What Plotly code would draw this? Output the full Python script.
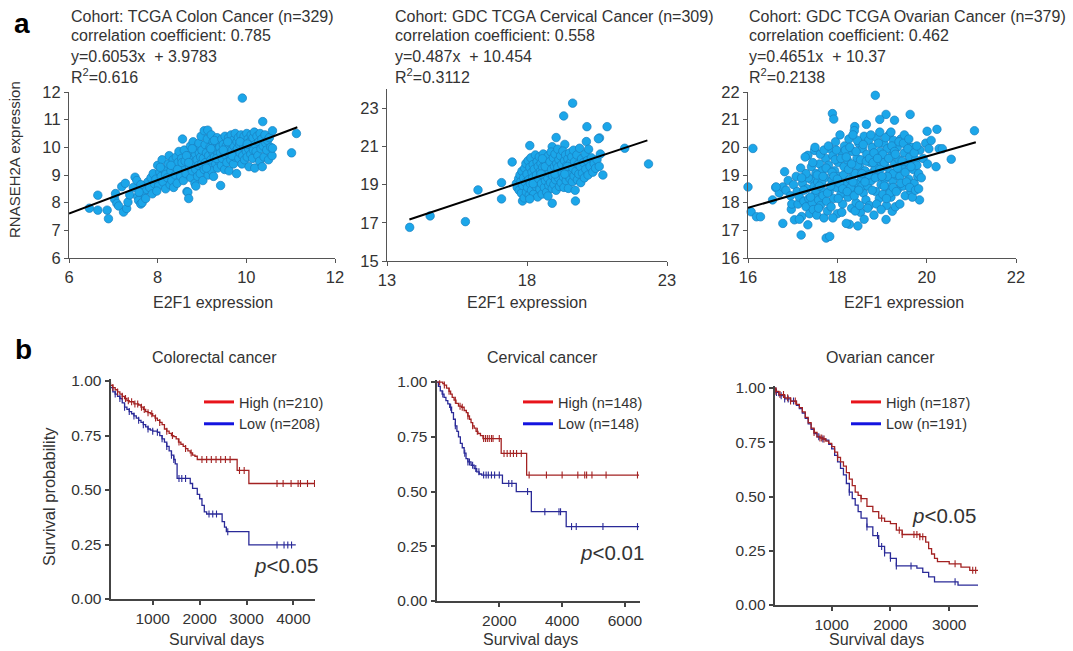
import plotly.graph_objects as go

# ---------------- DATA ----------------
# Panel a: scatter (E2F1 expression, RNASEH2A expression)
colon_pts = [
    (6.46,7.80),(6.65,8.27),(6.65,7.73),(6.86,7.73),(6.89,7.42),
    (7.03,8.12),(7.05,8.33),(7.08,7.97),(7.12,7.88),(7.19,8.58),(7.23,7.66),(7.27,8.70),(7.30,7.79),(7.33,8.02),(7.37,8.28),
    (7.45,8.55),(7.49,8.92),(7.53,8.80),(7.55,8.22),(7.57,8.08),(7.60,8.45),(7.62,7.95),(7.65,8.00),(7.68,8.35),(7.70,8.62),(7.73,8.15),(7.75,8.48),(7.78,8.75),(7.62,8.65),(7.58,8.38),
    (7.82,8.55),(7.85,8.90),(7.88,8.32),(7.90,9.05),(7.93,8.68),(7.96,8.85),(8.00,9.35),(8.02,8.60),(8.05,9.10),(8.08,8.95),(8.10,9.55),(8.12,8.75),(8.15,9.20),(8.18,8.50),(8.18,9.02),(7.98,8.42),(8.06,9.28),
    (8.22,8.90),(8.24,9.40),(8.26,9.70),(8.28,8.65),(8.30,9.15),(8.32,8.80),(8.35,9.55),(8.36,8.55),(8.38,9.30),(8.40,9.00),(8.42,9.65),(8.44,8.70),(8.46,9.45),(8.48,9.85),(8.50,9.10),(8.52,8.95),(8.54,9.60),(8.56,10.30),(8.57,9.25),(8.58,8.80),(8.30,9.35),(8.45,9.20),(8.55,9.45),
    (8.60,9.90),(8.62,9.50),(8.64,9.05),(8.66,8.40),(8.68,8.38),(8.70,9.70),(8.70,8.15),(8.72,9.30),(8.74,10.05),(8.75,8.90),(8.76,9.60),(8.78,9.15),(8.80,10.20),(8.80,9.85),(8.82,9.45),(8.84,8.70),(8.85,9.75),(8.86,9.20),(8.88,10.00),(8.89,9.55),(8.90,8.95),(8.92,9.35),(8.93,10.15),(8.94,9.80),(8.96,9.05),(8.97,9.65),(8.98,10.40),(8.99,9.40),(8.65,9.70),(8.78,9.95),(8.86,8.60),(8.70,9.45),
    (9.00,9.90),(9.02,8.80),(9.03,9.60),(9.05,10.60),(9.05,9.20),(9.07,10.10),(9.08,9.45),(9.10,9.80),(9.12,10.30),(9.13,10.62),(9.14,9.00),(9.15,9.70),(9.17,9.35),(9.18,10.00),(9.20,9.55),(9.21,10.45),(9.22,9.15),(9.24,9.85),(9.25,10.20),(9.26,8.95),(9.28,9.65),(9.30,10.05),(9.31,9.40),(9.32,9.90),(9.34,10.35),(9.35,9.25),(9.36,9.75),(9.38,10.15),(9.39,9.50),(9.42,8.62),(9.10,9.25),(9.20,9.95),(9.28,10.25),(9.33,9.60),
    (9.40,10.00),(9.42,9.80),(9.44,9.35),(9.45,10.30),(9.46,9.60),(9.48,10.10),(9.50,9.85),(9.51,9.20),(9.52,10.40),(9.54,9.70),(9.55,10.05),(9.56,9.45),(9.58,9.95),(9.60,10.35),(9.61,9.15),(9.62,9.75),(9.64,10.15),(9.65,9.55),(9.66,10.45),(9.68,9.90),(9.70,10.25),(9.71,9.40),(9.72,10.05),(9.74,9.65),(9.75,10.50),(9.76,9.85),(9.78,9.05),(9.79,10.20),(9.48,9.90),(9.58,10.20),(9.68,9.70),
    (9.80,9.95),(9.82,10.35),(9.83,9.60),(9.85,10.10),(9.86,9.80),(9.88,10.45),(9.90,9.40),(9.91,10.25),(9.92,9.70),(9.94,10.00),(9.95,10.40),(9.96,9.55),(9.98,10.15),(10.00,9.85),(10.01,10.50),(10.02,9.65),(10.04,10.30),(10.05,9.95),(10.06,9.30),(10.08,10.20),(10.10,9.75),(10.11,10.45),(10.12,10.05),(10.14,9.60),(10.15,10.35),(10.16,9.90),(10.18,10.55),(10.19,9.25),(9.86,10.20),(10.02,10.12),
    (10.20,10.10),(10.22,9.85),(10.24,10.40),(10.26,9.70),(10.28,10.20),(10.30,9.50),(10.31,10.50),(10.33,9.95),(10.35,10.30),(10.36,9.30),(10.38,10.05),(10.40,9.65),(10.42,10.45),(10.44,10.15),(10.46,9.90),(10.48,10.25),(10.50,9.55),(10.52,10.35),(10.55,10.00),(10.58,9.70),(10.59,10.60),(10.59,9.97),(10.37,10.93),
    (9.91,11.78),(11.13,10.50),(11.02,9.80),
]
cervical_pts = [
    (13.81,16.76),(14.54,17.36),(15.80,17.06),(16.25,18.72),(17.09,19.10),(17.09,18.25),(17.47,20.18),(18.10,21.04),
    (19.63,23.26),(19.31,22.59),(20.14,22.03),(20.86,22.03),(20.59,21.44),(21.49,20.90),(22.34,20.08),(20.71,19.50),
    (19.73,18.14),(18.90,18.02),(17.84,18.14),(19.04,21.46),(20.12,21.25),(18.90,20.98),(19.35,21.10),
    (17.62,19.05),(17.65,18.85),(17.70,19.30),(17.72,18.70),(17.75,19.50),(17.78,19.15),(17.80,18.55),(17.82,19.70),(17.85,18.95),(17.88,19.35),(17.90,18.30),(17.92,19.85),(17.95,19.10),(17.98,18.60),(17.96,20.10),
    (18.00,19.55),(18.02,18.85),(18.04,20.25),(18.06,19.25),(18.08,18.45),(18.10,19.90),(18.12,19.05),(18.14,20.40),(18.16,18.70),(18.18,19.65),(18.20,19.35),(18.22,20.05),(18.24,18.50),(18.26,19.80),(18.28,19.15),(18.30,20.55),(18.32,18.90),(18.34,19.50),(18.36,20.20),(18.38,18.35),(18.40,19.95),(18.10,18.25),(18.22,19.05),
    (18.42,19.30),(18.44,20.45),(18.46,18.75),(18.48,19.70),(18.50,20.10),(18.52,19.05),(18.54,18.50),(18.56,19.90),(18.58,20.60),(18.60,19.45),(18.62,18.85),(18.64,20.30),(18.66,19.20),(18.68,19.75),(18.70,18.60),(18.72,20.00),(18.74,19.35),(18.76,20.50),(18.78,18.95),(18.80,19.60),(18.50,19.55),(18.65,19.95),(18.55,20.35),(18.75,18.40),
    (18.82,20.20),(18.84,19.10),(18.86,20.70),(18.88,19.80),(18.90,18.80),(18.92,19.45),(18.94,20.40),(18.96,19.00),(18.98,19.95),(19.00,20.60),(19.02,19.25),(19.04,18.70),(19.06,20.10),(19.08,19.65),(19.10,20.85),(19.12,19.35),(19.14,20.30),(19.16,18.90),(19.18,19.85),(19.20,20.50),(19.00,19.55),(19.10,19.90),
    (19.22,19.10),(19.24,20.05),(19.26,19.60),(19.28,20.75),(19.30,19.40),(19.32,18.85),(19.34,20.25),(19.36,19.75),(19.38,20.55),(19.40,19.20),(19.42,20.00),(19.44,19.50),(19.46,20.35),(19.48,18.80),(19.50,19.90),(19.52,20.65),(19.54,19.30),(19.56,20.15),(19.58,19.65),(19.35,19.55),(19.45,19.95),
    (19.60,20.45),(19.62,19.15),(19.64,19.85),(19.66,20.80),(19.68,19.45),(19.70,20.20),(19.72,18.70),(19.75,19.70),(19.78,20.55),(19.80,19.25),(19.82,20.05),(19.85,19.55),(19.88,20.90),(19.90,19.95),(19.92,19.10),(19.95,20.35),(19.98,19.60),
    (20.02,20.15),(20.05,19.35),(20.08,20.60),(20.10,19.80),(20.15,20.25),(20.18,19.50),(20.20,20.85),(20.25,19.95),(20.30,20.40),(20.35,19.65),(20.40,20.10),(20.45,19.85),(20.50,20.30),(20.55,21.40),(20.58,19.95),(20.62,20.60),
]
ovarian_pts = [
    (18.85,21.88),(16.11,19.96),(16.00,18.57),(16.07,17.67),(16.19,17.49),(16.28,17.49),(16.78,17.25),(17.19,16.83),(17.75,16.72),(17.83,16.78),
    (21.07,20.60),(20.55,19.57),(20.21,19.30),(17.89,21.22),(17.92,21.02),(19.63,21.19),(20.23,20.65),(20.01,20.58),(19.09,21.19),(18.95,21.01),(19.28,20.98),
    (16.97,17.76),(17.04,17.38),(17.34,17.20),(18.27,17.22),(18.46,17.16),(19.09,17.39),(19.23,17.69),(19.84,18.10),(17.49,19.89),(17.34,19.71),(18.39,20.75),(18.65,20.83),
    (16.55,18.10),(16.62,18.55),(16.70,18.35),(16.78,18.57),(16.82,19.12),(16.85,18.45),(16.90,18.80),(16.95,18.25),(16.98,17.95),(16.63,18.57),
    (17.02,18.65),(17.08,18.95),(17.10,18.40),(17.12,17.95),(17.15,18.20),(17.18,19.25),(17.20,17.50),(17.22,18.70),(17.25,18.05),(17.28,19.65),(17.30,17.85),(17.32,18.50),(17.36,18.15),(17.38,17.60),(17.15,17.40),
    (17.40,18.85),(17.42,19.30),(17.44,18.00),(17.46,17.75),(17.48,18.60),(17.50,18.30),(17.52,19.05),(17.54,17.55),(17.56,18.75),(17.58,18.10),(17.60,19.40),(17.62,17.90),(17.64,18.50),(17.66,19.15),(17.68,18.25),(17.70,17.45),(17.72,18.90),(17.74,19.60),(17.76,18.05),(17.78,17.70),(17.55,19.00),(17.65,18.70),
    (17.80,19.35),(17.82,18.40),(17.84,19.95),(17.86,17.85),(17.88,18.80),(17.90,19.70),(17.92,18.15),(17.94,19.15),(17.96,20.20),(17.98,18.55),(18.00,17.60),(18.02,19.45),(18.04,18.95),(18.06,20.45),(18.08,18.30),(18.10,19.80),(18.12,17.95),(18.14,19.00),(18.16,20.05),(18.18,18.65),(18.20,17.25),(17.95,19.55),(18.05,18.70),(18.15,19.30),
    (18.22,19.55),(18.24,18.20),(18.26,20.30),(18.28,18.85),(18.30,19.15),(18.32,17.80),(18.34,19.85),(18.36,18.45),(18.38,20.60),(18.40,19.05),(18.42,18.00),(18.44,19.60),(18.46,18.70),(18.48,20.15),(18.50,19.30),(18.52,17.65),(18.54,18.90),(18.56,19.95),(18.58,18.35),(18.60,20.40),(18.30,18.55),(18.45,19.35),(18.55,18.60),
    (18.62,19.15),(18.64,18.10),(18.66,19.75),(18.68,18.60),(18.70,20.25),(18.72,17.90),(18.74,19.45),(18.76,18.80),(18.78,20.00),(18.80,19.10),(18.82,17.55),(18.84,19.65),(18.86,18.40),(18.88,20.35),(18.90,18.95),(18.92,19.35),(18.94,18.15),(18.96,19.85),(18.98,18.65),(18.70,19.00),(18.85,19.25),(18.95,20.55),
    (19.00,19.55),(19.02,18.30),(19.04,20.15),(19.06,18.85),(19.08,19.30),(19.10,17.90),(19.12,19.95),(19.14,18.55),(19.16,20.45),(19.18,19.10),(19.20,18.20),(19.22,19.70),(19.24,18.80),(19.26,20.25),(19.28,19.40),(19.30,17.85),(19.32,19.00),(19.34,20.00),(19.36,18.50),(19.38,19.55),(19.05,19.45),(19.25,19.05),
    (19.40,18.95),(19.42,20.30),(19.45,19.25),(19.48,18.60),(19.50,19.80),(19.52,18.25),(19.55,20.10),(19.58,19.45),(19.60,18.85),(19.62,19.65),(19.65,18.40),(19.68,20.00),(19.70,19.20),(19.72,18.70),(19.75,19.55),(19.78,19.35),(19.80,18.95),(19.82,19.05),(19.85,19.90),(19.88,18.90),
    (19.92,19.60),(19.98,20.15),(20.02,19.40),(20.05,19.95),(20.10,20.25),(20.28,19.95),(20.35,19.95),
    (17.25,18.45),(17.35,18.90),(17.45,19.45),(17.52,18.45),(17.58,17.80),(17.62,19.75),(17.68,18.95),(17.75,19.25),(17.78,18.35),(17.85,18.60),(17.88,19.10),(17.92,18.95),(17.98,19.90),(18.02,18.15),(18.08,19.60),(18.12,18.50),(18.18,19.90),(18.22,18.40),(18.25,19.20),(18.28,20.00),(18.32,19.40),(18.35,18.75),(18.38,18.25),(18.42,19.85),(18.45,20.25),(18.48,18.45),(18.52,19.55),(18.55,19.05),(18.58,20.10),(18.62,18.75),(18.65,19.50),(18.68,17.80),(18.72,19.60),(18.75,20.45),(18.78,18.45),(18.82,19.80),(18.85,18.90),(18.88,17.95),(18.92,20.15),(18.95,19.20),(18.98,17.75),
    (19.02,19.75),(19.05,18.60),(19.08,20.35),(19.12,18.95),(19.15,19.60),(19.18,18.35),(19.22,20.05),(19.25,18.55),(19.28,19.85),(19.32,18.40),(19.35,19.25),(19.38,20.20),(19.42,18.70),(19.45,19.50),(19.48,20.15),(19.52,19.10),(19.55,18.75),(19.58,19.95),(19.62,18.55),(19.65,19.30),(19.68,18.20),(19.72,19.80),(19.75,18.45),(19.78,20.05),(19.82,18.50),
    (17.30,19.05),(17.40,18.20),(17.60,18.60),(17.70,19.90),(17.90,17.45),(18.00,18.85),(18.10,17.65),(18.20,19.65),(18.40,17.70),(18.50,17.90),(18.60,17.40),(18.80,19.45),(18.90,19.60),(19.00,18.95),(19.10,18.15),(19.20,20.55),(19.30,19.75),(19.40,17.95),(19.50,20.45),(19.60,20.30),(17.20,18.90),(17.50,20.00),(17.80,20.05),(18.35,20.45),
]
# regression lines (slope, intercept, x-start, x-end)
fits = [(0.6053, 3.9783, 6.0, 11.15), (0.487, 10.454, 13.8, 22.3), (0.4651, 10.37, 16.0, 21.1)]

titles_a = [
    ["Cohort: TCGA Colon Cancer (n=329)", "correlation coefficient: 0.785", "y=0.6053x  + 3.9783", "R<sup>2</sup>=0.616"],
    ["Cohort: GDC TCGA Cervical Cancer (n=309)", "correlation coefficient: 0.558", "y=0.487x  + 10.454", "R<sup>2</sup>=0.3112"],
    ["Cohort: GDC TCGA Ovarian Cancer (n=379)", "correlation coefficient: 0.462", "y=0.4651x  + 10.37", "R<sup>2</sup>=0.2138"],
]

# Panel b: Kaplan-Meier step data (days, survival probability)
crc_high_t = [0,50,100,150,200,250,300,350,400,450,500,600,700,750,800,850,900,950,1000,1050,1100,1150,1200,1250,1300,1350,1400,1450,1500,1550,1600,1650,1700,1750,1800,1850,1900,1950,2800,3050,4500]
crc_high_s = [1.0,0.99,0.98,0.97,0.96,0.95,0.94,0.93,0.92,0.91,0.905,0.895,0.89,0.88,0.87,0.86,0.855,0.85,0.84,0.83,0.82,0.81,0.80,0.78,0.77,0.76,0.75,0.745,0.735,0.72,0.71,0.70,0.69,0.68,0.67,0.66,0.655,0.64,0.59,0.53,0.53]
crc_low_t = [0,50,100,150,200,250,300,350,400,450,500,550,600,650,700,750,800,850,900,950,1000,1100,1150,1200,1250,1300,1350,1400,1450,1480,1520,1800,1850,1950,2000,2050,2100,2150,2480,2530,2570,3050,4050]
crc_low_s = [1.0,0.98,0.97,0.95,0.94,0.93,0.92,0.90,0.88,0.87,0.86,0.85,0.84,0.83,0.82,0.81,0.80,0.79,0.78,0.775,0.77,0.765,0.75,0.735,0.72,0.70,0.68,0.66,0.64,0.62,0.553,0.53,0.508,0.48,0.46,0.43,0.40,0.39,0.355,0.33,0.309,0.248,0.248]
crc_high_cens = [150,250,350,420,480,550,620,680,760,820,900,980,1060,1150,1300,1420,1560,1700,1820,2050,2150,2250,2350,2450,2550,2650,2850,2950,3650,3780,3950,4100,4150,4300,4450]
crc_low_cens = [200,300,400,500,600,700,800,900,1000,1100,1200,1300,1400,1450,1560,1620,1700,2200,2280,2360,2600,3650,3800,3880,3960]

cer_high_t = [0,200,250,320,400,450,500,560,620,700,800,880,950,1000,1050,1100,1150,1200,1260,1320,1400,1480,2060,2870,6450]
cer_high_s = [1.0,0.993,0.986,0.972,0.958,0.945,0.93,0.917,0.903,0.89,0.885,0.87,0.86,0.845,0.83,0.815,0.80,0.79,0.775,0.765,0.755,0.742,0.674,0.575,0.575]
cer_low_t = [0,60,120,180,240,300,360,420,480,540,600,650,700,760,820,880,940,1000,1100,1200,1280,1360,1440,2100,2540,3020,4130,6450]
cer_low_s = [1.0,0.98,0.96,0.945,0.93,0.915,0.90,0.885,0.86,0.83,0.80,0.775,0.75,0.72,0.70,0.675,0.65,0.635,0.62,0.605,0.59,0.58,0.575,0.537,0.50,0.408,0.34,0.34]
cer_high_cens = [100,250,400,600,750,820,1000,1150,1300,1500,1560,1620,1680,1750,1800,2000,2150,2250,2350,2450,2550,2700,2950,3500,4000,4500,4720,4780,4950,5400,6400]
cer_low_cens = [200,450,600,900,1000,1050,1150,1250,1350,1500,1580,1650,1750,1850,2000,2300,2400,2900,3450,3900,3950,4300,4450,5300,6400]

ova_high_t = [0,50,100,200,300,400,450,500,550,600,650,700,750,800,850,900,950,1000,1050,1100,1150,1200,1250,1300,1350,1400,1450,1500,1600,1700,1800,1900,2000,2100,2200,2500,2600,2650,2700,2750,2800,3000,3200,3350,3500]
ova_high_s = [1.0,0.985,0.97,0.955,0.94,0.925,0.91,0.89,0.865,0.84,0.815,0.795,0.775,0.77,0.765,0.755,0.745,0.73,0.705,0.68,0.66,0.64,0.61,0.58,0.55,0.52,0.505,0.49,0.455,0.43,0.40,0.385,0.375,0.345,0.325,0.315,0.29,0.26,0.235,0.215,0.20,0.19,0.175,0.16,0.155]
ova_low_t = [0,50,100,200,300,400,450,500,550,600,650,700,750,800,850,900,950,1000,1050,1100,1150,1200,1250,1300,1350,1400,1450,1500,1600,1700,1800,1900,2000,2100,2450,2550,2650,2750,3150,3500]
ova_low_s = [1.0,0.98,0.965,0.95,0.94,0.92,0.905,0.885,0.86,0.835,0.81,0.79,0.775,0.77,0.765,0.76,0.74,0.72,0.69,0.66,0.63,0.60,0.56,0.52,0.49,0.46,0.43,0.40,0.36,0.32,0.27,0.24,0.215,0.18,0.17,0.15,0.13,0.107,0.092,0.085]
ova_high_cens = [50,120,180,250,300,380,700,800,830,870,1100,1500,1850,2150,2200,2400,2450,2500,2550,3100,3400,3450,3500]
ova_low_cens = [60,140,200,260,350,780,850,1300,1600,1780,1850,1900,2000,2100,2350,3100,3500]

km_titles = ["Colorectal cancer", "Cervical cancer", "Ovarian cancer"]
km_legend = [("High (n=210)", "Low (n=208)"), ("High (n=148)", "Low (n=148)"), ("High (n=187)", "Low (n=191)")]
km_pvals = ["<i>p</i>&lt;0.05", "<i>p</i>&lt;0.01", "<i>p</i>&lt;0.05"]

# ---------------- LAYOUT HELPERS ----------------
W, H = 1073, 651
FONT = "Liberation Sans, Arial, sans-serif"
TXT = "#333333"

def xd(a, b):
    return [a / W, b / W]

def yd(top, bottom):
    return [1 - bottom / H, 1 - top / H]

def px(x):
    return x / W

def py(y):
    return 1 - y / H

def step_at(ts, ss, t):
    v = ss[0]
    for ti, si in zip(ts, ss):
        if ti <= t:
            v = si
        else:
            break
    return v

fig = go.Figure()

# ---------------- PANEL a ----------------
SC_FILL = "#1ba6e9"
SC_EDGE = "#1a7fc0"
scatter_sets = [colon_pts, cervical_pts, ovarian_pts]
for i, pts in enumerate(scatter_sets):
    ax = "" if i == 0 else str(i + 1)
    fig.add_trace(go.Scatter(
        x=[p[0] for p in pts], y=[p[1] for p in pts], mode="markers",
        marker=dict(size=8.5, color=SC_FILL, line=dict(color=SC_EDGE, width=0.7)),
        cliponaxis=False, showlegend=False, xaxis="x" + ax, yaxis="y" + ax, hoverinfo="skip"))
    m, b, x0, x1 = fits[i]
    fig.add_trace(go.Scatter(
        x=[x0, x1], y=[m * x0 + b, m * x1 + b], mode="lines",
        line=dict(color="black", width=2), showlegend=False,
        xaxis="x" + ax, yaxis="y" + ax, hoverinfo="skip"))

# ---------------- PANEL b ----------------
HIGH_C = "#a32222"
LOW_C = "#2a2a98"
km_sets = [
    (crc_high_t, crc_high_s, crc_low_t, crc_low_s, crc_high_cens, crc_low_cens),
    (cer_high_t, cer_high_s, cer_low_t, cer_low_s, cer_high_cens, cer_low_cens),
    (ova_high_t, ova_high_s, ova_low_t, ova_low_s, ova_high_cens, ova_low_cens),
]
for i, (ht, hs, lt, ls, hc, lc) in enumerate(km_sets):
    ax = str(i + 4)
    leg = "legend" if i == 0 else "legend" + str(i + 1)
    for (tt, ss, cc, col) in [(lt, ls, lc, LOW_C), (ht, hs, hc, HIGH_C)]:
        fig.add_trace(go.Scatter(x=tt, y=ss, mode="lines", line=dict(shape="hv", color=col, width=1.3),
                                 showlegend=False, xaxis="x" + ax, yaxis="y" + ax, hoverinfo="skip"))
        fig.add_trace(go.Scatter(x=cc, y=[step_at(tt, ss, c) for c in cc], mode="markers",
                                 marker=dict(symbol="line-ns", size=5, line=dict(color=col, width=1.1)),
                                 showlegend=False, xaxis="x" + ax, yaxis="y" + ax, hoverinfo="skip"))
    # legend entries
    fig.add_trace(go.Scatter(x=[None], y=[None], mode="lines", line=dict(color="#e8141b", width=3),
                             name=km_legend[i][0], legend=leg, xaxis="x" + ax, yaxis="y" + ax))
    fig.add_trace(go.Scatter(x=[None], y=[None], mode="lines", line=dict(color="#1414e0", width=3),
                             name=km_legend[i][1], legend=leg, xaxis="x" + ax, yaxis="y" + ax))

# ---------------- AXES ----------------
sc_axis = dict(showgrid=False, zeroline=False, showline=True, linecolor="#555555", linewidth=1.2,
               ticks="outside", ticklen=4, tickcolor="#555555", tickwidth=1.2, automargin=False,
               tickfont=dict(family=FONT, size=16.5, color=TXT))
km_axis = dict(showgrid=False, zeroline=False, showline=True, linecolor="#444444", linewidth=2,
               ticks="outside", ticklen=4, tickcolor="#444444", tickwidth=1.5, automargin=False,
               tickfont=dict(family=FONT, size=15.5, color=TXT))

layout_axes = {
    "xaxis": dict(sc_axis, domain=xd(69, 335), range=[6, 12], tickvals=[6, 8, 10, 12], anchor="y"),
    "yaxis": dict(sc_axis, domain=yd(92, 258), range=[6, 12], tickvals=[6, 7, 8, 9, 10, 11, 12], anchor="x"),
    "xaxis2": dict(sc_axis, domain=xd(387, 667), range=[13, 23], tickvals=[13, 18, 23], anchor="y2"),
    "yaxis2": dict(sc_axis, domain=yd(89, 261), range=[15, 24], tickvals=[15, 17, 19, 21, 23], anchor="x2"),
    "xaxis3": dict(sc_axis, domain=xd(748, 1016), range=[16, 22], tickvals=[16, 18, 20, 22], anchor="y3"),
    "yaxis3": dict(sc_axis, domain=yd(92, 258), range=[16, 22], tickvals=[16, 17, 18, 19, 20, 21, 22], anchor="x3"),
    "xaxis4": dict(km_axis, domain=xd(110.5, 315), range=[100, 4460], tickvals=[1000, 2000, 3000, 4000], anchor="y4"),
    "yaxis4": dict(km_axis, domain=yd(379.3, 599), range=[0, 1.008], tickvals=[0, 0.25, 0.5, 0.75, 1.0], tickformat=".2f", anchor="x4"),
    "xaxis5": dict(km_axis, domain=xd(436.5, 640), range=[0, 6480], tickvals=[2000, 4000, 6000], anchor="y5"),
    "yaxis5": dict(km_axis, domain=yd(380.3, 601), range=[0, 1.008], tickvals=[0, 0.25, 0.5, 0.75, 1.0], tickformat=".2f", anchor="x5"),
    "xaxis6": dict(km_axis, domain=xd(774.7, 978), range=[30, 3490], tickvals=[1000, 2000, 3000], anchor="y6"),
    "yaxis6": dict(km_axis, domain=yd(386.3, 605), range=[0, 1.008], tickvals=[0, 0.25, 0.5, 0.75, 1.0], tickformat=".2f", anchor="x6"),
}

# ---------------- ANNOTATIONS ----------------
ann = []

def text(x, y, s, size, xanchor="center", yanchor="middle", angle=0, bold=False):
    ann.append(dict(x=px(x), y=py(y), xref="paper", yref="paper", text=("<b>%s</b>" % s) if bold else s,
                    showarrow=False, xanchor=xanchor, yanchor=yanchor, textangle=angle,
                    font=dict(family=FONT, size=size, color="#000000" if bold else TXT)))

text(22, 24, "a", 28, bold=True)
text(23, 349, "b", 28, bold=True)

title_x = [69, 393, 747]
line_y = [16, 36, 56, 76]
for i in range(3):
    for j, s in enumerate(titles_a[i]):
        text(title_x[i], line_y[j], s, 16, xanchor="left")

text(15, 160, "RNASEH2A expression", 15, angle=-90)
for cx in [213, 527, 904]:
    text(cx, 302, "E2F1 expression", 16)

for cx, t in zip([214, 542, 880], km_titles):
    text(cx, 357, t, 16)
for cx in [216, 530, 876]:
    text(cx, 639, "Survival days", 16)
text(49, 496, "Survival probability", 16.5, angle=-90)

text(286, 565, km_pvals[0], 20.5)
text(612, 552, km_pvals[1], 20.5)
text(944, 515, km_pvals[2], 20.5)

# ---------------- LEGENDS ----------------
def legend_at(x, y):
    return dict(x=px(x), y=py(y), xanchor="left", yanchor="top", bgcolor="rgba(0,0,0,0)",
                borderwidth=0, font=dict(family=FONT, size=14.5, color=TXT), tracegroupgap=0,
                itemclick=False, itemdoubleclick=False)

fig.update_layout(
    template="none",
    width=W, height=H, margin=dict(l=0, r=0, t=0, b=0, pad=0),
    paper_bgcolor="white", plot_bgcolor="white",
    showlegend=True,
    legend=legend_at(199, 386),
    legend2=legend_at(518, 386),
    legend3=legend_at(846, 386),
    annotations=ann,
    **layout_axes,
)

fig.write_html("out.html", config={"displayModeBar": False},
               post_script="document.body.style.margin='0px';")
